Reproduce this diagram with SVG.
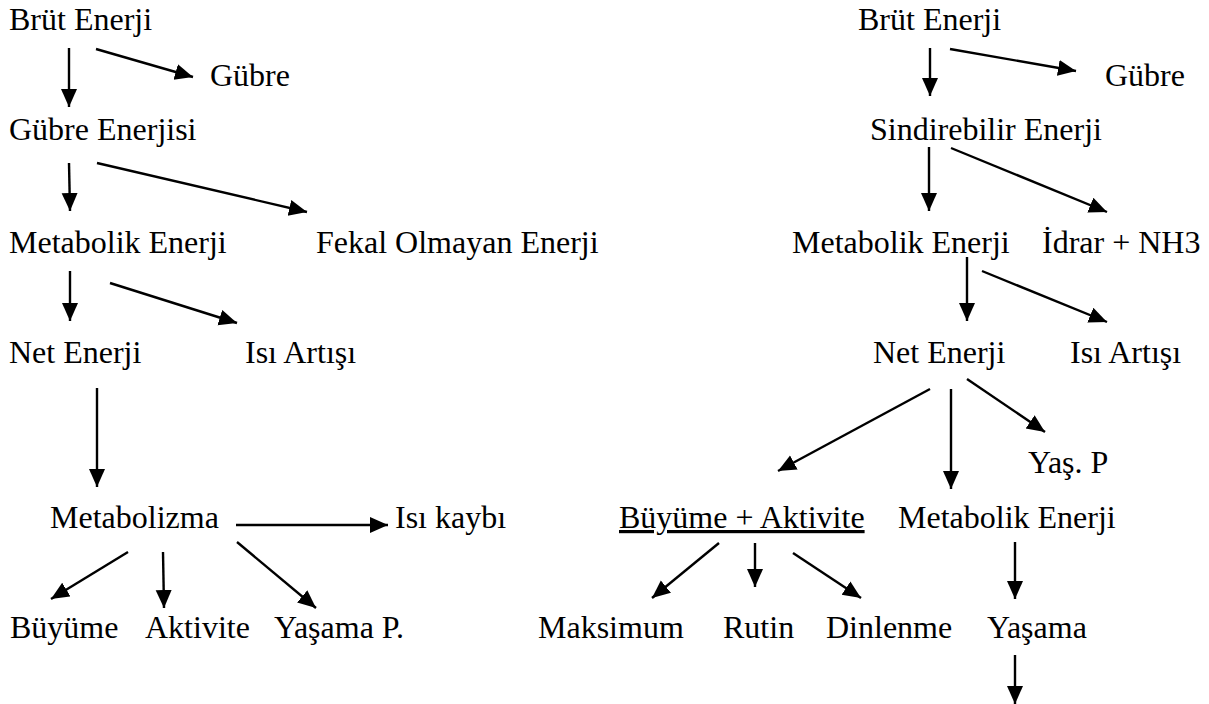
<svg xmlns="http://www.w3.org/2000/svg" width="1209" height="704" viewBox="0 0 1209 704">
<style>
.c line { stroke: #000; stroke-width: 2.4; marker-end: url(#ah); }
</style>
<defs>
<marker id="ah" markerUnits="userSpaceOnUse" markerWidth="20" markerHeight="18" refX="18" refY="8" orient="auto">
<path d="M0,0 L18,8 L0,16 z" fill="#000"/>
</marker>
</defs>
<rect width="1209" height="704" fill="#fff"/>
<g id="left-nodes">
<g id="l-brut"><text x="9" y="30" font-family="Liberation Serif" font-size="32">Brüt Enerji</text></g>
<g id="l-gubre"><text x="210" y="86" font-family="Liberation Serif" font-size="32">Gübre</text></g>
<g id="l-gubre-enerjisi"><text x="9" y="140" font-family="Liberation Serif" font-size="32">Gübre Enerjisi</text></g>
<g id="l-metabolik"><text x="9" y="253" font-family="Liberation Serif" font-size="32">Metabolik Enerji</text></g>
<g id="l-fekal"><text x="316" y="253" font-family="Liberation Serif" font-size="32">Fekal Olmayan Enerji</text></g>
<g id="l-net"><text x="9" y="363" font-family="Liberation Serif" font-size="32">Net Enerji</text></g>
<g id="l-isi-artisi"><text x="245" y="363" font-family="Liberation Serif" font-size="32">Isı Artışı</text></g>
<g id="l-metabolizma"><text x="50" y="528" font-family="Liberation Serif" font-size="32">Metabolizma</text></g>
<g id="l-isi-kaybi"><text x="395" y="528" font-family="Liberation Serif" font-size="32">Isı kaybı</text></g>
<g id="l-buyume"><text x="10" y="638" font-family="Liberation Serif" font-size="32">Büyüme</text></g>
<g id="l-aktivite"><text x="145" y="638" font-family="Liberation Serif" font-size="32">Aktivite</text></g>
<g id="l-yasama-p"><text x="274" y="638" font-family="Liberation Serif" font-size="32">Yaşama P.</text></g>
</g>
<g id="right-nodes">
<g id="r-brut"><text x="858" y="30" font-family="Liberation Serif" font-size="32">Brüt Enerji</text></g>
<g id="r-gubre"><text x="1105" y="86" font-family="Liberation Serif" font-size="32">Gübre</text></g>
<g id="r-sindirebilir"><text x="870" y="140" font-family="Liberation Serif" font-size="32">Sindirebilir Enerji</text></g>
<g id="r-metabolik"><text x="792" y="253" font-family="Liberation Serif" font-size="32">Metabolik Enerji</text></g>
<g id="r-idrar"><text x="1042" y="253" font-family="Liberation Serif" font-size="32">İdrar + NH3</text></g>
<g id="r-net"><text x="873" y="363" font-family="Liberation Serif" font-size="32">Net Enerji</text></g>
<g id="r-isi-artisi"><text x="1070" y="363" font-family="Liberation Serif" font-size="32">Isı Artışı</text></g>
<g id="r-yas-p"><text x="1028" y="473" font-family="Liberation Serif" font-size="32">Yaş. P</text></g>
<g id="r-buyume-aktivite"><text x="619" y="528" font-family="Liberation Serif" font-size="32" text-decoration="underline">Büyüme + Aktivite</text></g>
<g id="r-metabolik2"><text x="898" y="528" font-family="Liberation Serif" font-size="32">Metabolik Enerji</text></g>
<g id="r-maksimum"><text x="538" y="638" font-family="Liberation Serif" font-size="32">Maksimum</text></g>
<g id="r-rutin"><text x="723" y="638" font-family="Liberation Serif" font-size="32">Rutin</text></g>
<g id="r-dinlenme"><text x="826" y="638" font-family="Liberation Serif" font-size="32">Dinlenme</text></g>
<g id="r-yasama"><text x="987" y="638" font-family="Liberation Serif" font-size="32">Yaşama</text></g>
</g>
<g id="connectors" class="c">
<line x1="69" y1="48" x2="69" y2="107"/>
<line x1="96" y1="49" x2="193" y2="77"/>
<line x1="69" y1="163" x2="70" y2="211"/>
<line x1="97" y1="163" x2="307" y2="212"/>
<line x1="70" y1="271" x2="70" y2="321"/>
<line x1="110" y1="283" x2="237" y2="323"/>
<line x1="97" y1="388" x2="97" y2="487"/>
<line x1="236" y1="525" x2="388" y2="525"/>
<line x1="128" y1="552" x2="51" y2="599"/>
<line x1="163" y1="552" x2="164" y2="608"/>
<line x1="237" y1="542" x2="316" y2="608"/>
<line x1="930" y1="48" x2="930" y2="96"/>
<line x1="950" y1="49" x2="1076" y2="71"/>
<line x1="929" y1="147" x2="929" y2="211"/>
<line x1="951" y1="148" x2="1107" y2="212"/>
<line x1="967" y1="257" x2="967" y2="321"/>
<line x1="982" y1="271" x2="1107" y2="322"/>
<line x1="930" y1="389" x2="778" y2="471"/>
<line x1="951" y1="389" x2="951" y2="489"/>
<line x1="967" y1="379" x2="1045" y2="432"/>
<line x1="719" y1="543" x2="652" y2="598"/>
<line x1="755" y1="543" x2="755" y2="587"/>
<line x1="793" y1="553" x2="861" y2="598"/>
<line x1="1015" y1="542" x2="1015" y2="599"/>
<line x1="1015" y1="655" x2="1015" y2="704"/>
</g>
</svg>
